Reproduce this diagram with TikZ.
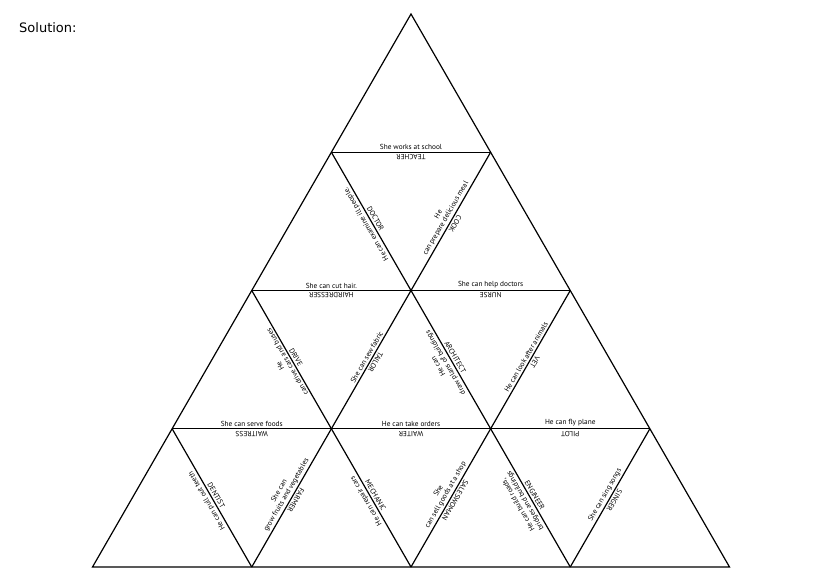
\documentclass[tikz,border=0pt]{standalone}
\usepackage{fontspec}
\setmainfont{Liberation Sans}
\newfontfamily\trifont{PT Sans}
\newfontfamily\solfont{DejaVu Sans}
\begin{document}
\begin{tikzpicture}[x=1pt,y=1pt,
  edge/.style={line width=1.2pt, black, line join=miter},
  lab/.style={sloped, allow upside down, above, midway,
    font=\trifont\fontsize{7.3}{8.2}\selectfont,
    inner xsep=0pt, inner ysep=2.2pt, align=center}]
\path[use as bounding box] (0,0) rectangle (821,581);
% grid points
\coordinate (P00) at (411,567);
\coordinate (P10) at (331.375,428.75);
\coordinate (P11) at (490.625,428.75);
\coordinate (P20) at (251.75,290.5);
\coordinate (P21) at (411,290.5);
\coordinate (P22) at (570.25,290.5);
\coordinate (P30) at (172.125,152.25);
\coordinate (P31) at (331.375,152.25);
\coordinate (P32) at (490.625,152.25);
\coordinate (P33) at (649.875,152.25);
\coordinate (P40) at (92.5,14);
\coordinate (P41) at (251.75,14);
\coordinate (P42) at (411,14);
\coordinate (P43) at (570.25,14);
\coordinate (P44) at (729.5,14);
% title
\node[anchor=west, font=\solfont\fontsize{13}{15}\selectfont, inner sep=0pt] (sol) at (19,553) {Solution:};
% lines
\draw[edge] (P00) -- (P40) -- (P44) -- cycle;
\draw[edge] (P10) -- (P11);
\draw[edge] (P20) -- (P22);
\draw[edge] (P30) -- (P33);
\draw[edge] (P10) -- (P43);
\draw[edge] (P20) -- (P42);
\draw[edge] (P30) -- (P41);
\draw[edge] (P11) -- (P41);
\draw[edge] (P22) -- (P42);
\draw[edge] (P33) -- (P43);
% labels
\path (P10) -- (P11) node[lab] {She works at school};
\path (P11) -- (P10) node[lab] {TEACHER};
\path (P10) -- (P21) node[lab] {DOCTOR};
\path (P21) -- (P10) node[lab] {He can examine ill people.};
\path (P21) -- (P11) node[lab] {He\\can prepare delicious meal};
\path (P11) -- (P21) node[lab] {COOK};
\path (P20) -- (P21) node[lab] {She can cut hair.};
\path (P21) -- (P20) node[lab] {HAIRDRESSER};
\path (P21) -- (P22) node[lab] {She can help doctors};
\path (P22) -- (P21) node[lab] {NURSE};
\path (P20) -- (P31) node[lab] {DRIVE};
\path (P31) -- (P20) node[lab] {He\\can drive cars and buses};
\path (P31) -- (P21) node[lab] {She can sew fabric};
\path (P21) -- (P31) node[lab] {TAILOR};
\path (P21) -- (P32) node[lab] {ARCHITECT};
\path (P32) -- (P21) node[lab] {He can\\draw plans of buildings};
\path (P32) -- (P22) node[lab] {He can look after animals};
\path (P22) -- (P32) node[lab] {VET};
\path (P30) -- (P31) node[lab] {She can serve foods};
\path (P31) -- (P30) node[lab] {WAITRESS};
\path (P31) -- (P32) node[lab] {He can take orders};
\path (P32) -- (P31) node[lab] {WAITER};
\path (P32) -- (P33) node[lab] {He can fly plane};
\path (P33) -- (P32) node[lab] {PILOT};
\path (P30) -- (P41) node[lab] {DENTIST};
\path (P41) -- (P30) node[lab] {He can pull out teeth};
\path (P41) -- (P31) node[lab] {She can\\grow fruits and vegetables};
\path (P31) -- (P41) node[lab] {FARMER};
\path (P31) -- (P42) node[lab] {MECHANIC};
\path (P42) -- (P31) node[lab] {He can repair cars};
\path (P42) -- (P32) node[lab] {She\\can sell goods at a shop};
\path (P32) -- (P42) node[lab] {SALESWOMAN};
\path (P32) -- (P43) node[lab] {ENGINEER};
\path (P43) -- (P32) node[lab] {He can build roads,\\bridges and buildings};
\path (P43) -- (P33) node[lab] {She can sing songs};
\path (P33) -- (P43) node[lab] {SINGER};
\end{tikzpicture}
\end{document}
